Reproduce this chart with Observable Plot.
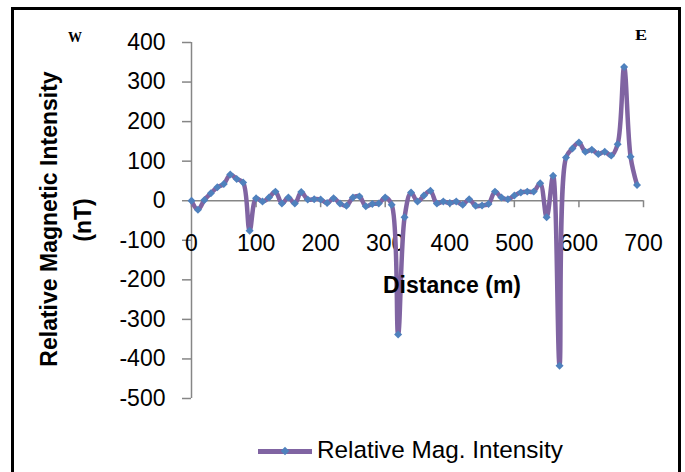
<!DOCTYPE html>
<html>
<head>
<meta charset="utf-8">
<script src="https://cdn.jsdelivr.net/npm/d3@7"></script>
<script src="https://cdn.jsdelivr.net/npm/@observablehq/plot@0.6"></script>
<style>
  html, body { margin: 0; padding: 0; background: #fff; }
  #wrap { position: relative; width: 685px; height: 472px; overflow: hidden; background: #fff;
          font-family: "Liberation Sans", Arial, sans-serif; color: #000; }
  #chart { position: absolute; left: 0; top: 0; }
  .abs { position: absolute; white-space: nowrap; line-height: 23px; }
  #border { position: absolute; left: 11px; top: 7px; width: 664px; height: 520px; border: 3px solid #000; }
  .ytitle { font-size: 23px; font-weight: bold; transform: translate(-50%, -50%) rotate(-90deg); }
  .dir { font-family: "Liberation Serif", "Times New Roman", serif; font-weight: bold; font-size: 14px; line-height: 14px;
         transform: translate(-50%, -50%); }
</style>
</head>
<body>
<div id="wrap">
  <div id="chart"></div>
  <div id="border"></div>
  <div class="abs dir" style="left:75px; top:37.5px;">W</div>
  <div class="abs dir" style="left:640.5px; top:35.5px; transform: translate(-50%, -50%) scaleX(1.3);">E</div>
  <div class="abs ytitle" style="left:49.3px; top:218.5px;">Relative Magnetic Intensity</div>
  <div class="abs ytitle" style="left:82.7px; top:220px;">(nT)</div>
  <div class="abs" style="left:452px; top:274px; transform: translateX(-50%); font-size:23px; font-weight:bold;">Distance (m)</div>
  <div id="legend" class="abs" style="left:258px; top:438px; height:23px;">
    <span style="position:absolute; left:0; top:11px; width:54px; height:5px; background:#8064A2;"></span>
    <span style="position:absolute; left:24px; top:10px; width:6px; height:6px; background:#4F81BD; transform: rotate(45deg);"></span>
    <span style="position:absolute; left:59px; top:-0.5px; font-size:24.3px;">Relative Mag. Intensity</span>
  </div>
</div>
<script>
// ---- data ----
const distance = [0,10,20,30,40,50,60,70,80,90,100,110,120,130,140,150,160,170,180,190,
  200,210,220,230,240,250,260,270,280,290,300,310,320,330,340,350,360,370,380,390,
  400,410,420,430,440,450,460,470,480,490,500,510,520,530,540,550,560,570,580,590,
  600,610,620,630,640,650,660,670,680,690];
const intensity = [0,-23,2,19,34,42,66,55,46,-76,6,-2,8,23,-7,8,-7,22,3,4,
  3,-6,6,-7,-13,8,11,-14,-8,-7,8,-10,-338,-42,21,-2,13,25,-7,-2,
  -6,-2,-10,4,-13,-12,-8,23,8,4,13,21,23,23,44,-42,63,-417,109,132,
  147,124,129,118,124,114,143,338,111,40];
const xTicks = [0,100,200,300,400,500,600,700];
const yTicks = [-500,-400,-300,-200,-100,0,100,200,300,400];
const seriesName = "Relative Mag. Intensity";

const rows = distance.map((d, i) => ({distance: d, intensity: intensity[i]}));

const axisGray = "#868686";
const purple = "#8064A2";
const blue = "#4F81BD";

const chart = Plot.plot({
  width: 685,
  height: 430,
  marginLeft: 191,
  marginRight: 42,
  marginTop: 42,
  marginBottom: 32,
  x: {domain: [0, 700], axis: null},
  y: {domain: [-500, 400]},
  style: {fontFamily: "'Liberation Sans', Arial, sans-serif", fontSize: "23px", color: "black", background: "none", overflow: "visible"},
  marks: [
    Plot.ruleX([0], {stroke: axisGray, strokeWidth: 1.5}),
    Plot.axisY(yTicks, {anchor: "left", tickSize: 9, tickPadding: 17, stroke: axisGray, strokeWidth: 1.5,
      fill: "black", fontSize: 23, tickFormat: d => String(d), label: null}),
    Plot.ruleY([0], {stroke: axisGray, strokeWidth: 1.5}),
    Plot.ruleX(xTicks, {x: d => d, y1: () => 0, y2: () => 0, insetBottom: -7, stroke: axisGray, strokeWidth: 1.5}),
    Plot.text(xTicks, {x: d => d, y: () => 0, dy: 43, text: d => String(d), fontSize: 23, fill: "black"}),
    Plot.line(rows, {x: "distance", y: "intensity", stroke: purple, strokeWidth: 4.5, curve: "catmull-rom"}),
    Plot.dot(rows, {x: "distance", y: "intensity", symbol: "diamond2", fill: blue, stroke: "none", r: 3.6})
  ]
});
document.getElementById("chart").appendChild(chart);
</script>
</body>
</html>
